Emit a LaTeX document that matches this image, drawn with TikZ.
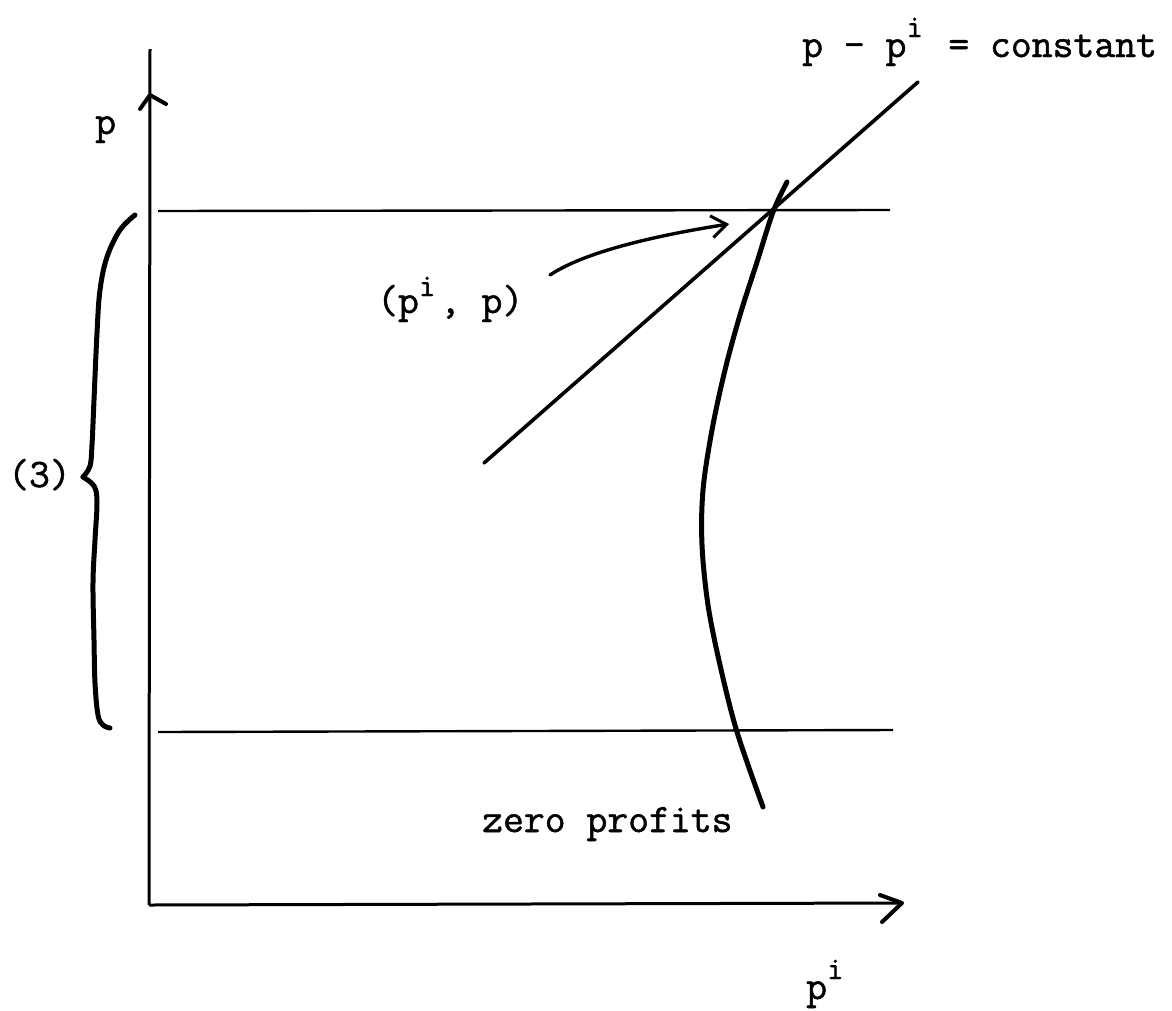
\documentclass[tikz,border=0pt]{standalone}
\usepackage{fontspec}
\setmonofont{Latin Modern Mono}[FakeBold=1.2]
\usetikzlibrary{arrows.meta}
\newcommand\mysupi[1]{\makebox[21pt][l]{\raisebox{#1}{\fontsize{32}{32}\selectfont i}}}
\begin{document}
\begin{tikzpicture}[x=1pt,y=-1pt,
  lbl/.style={inner sep=0pt,anchor=base west,font=\fontsize{40.5}{42}\selectfont\ttfamily},
  thinln/.style={line width=2.4pt},
  axisln/.style={line width=3pt},
  chev/.style={line width=4pt,line cap=round,line join=round},
  heavy/.style={line width=5pt,line cap=round,line join=round},
  diag/.style={line width=3.6pt,line cap=round},
  pointer/.style={line width=3.4pt,line cap=round,-{Straight Barb[length=15pt,width=22pt,line width=3pt]}}]
\useasboundingbox (0,0) rectangle (1172,1010);

% axes
\coordinate (O) at (149,905);
\coordinate (ytop) at (150,49);
\coordinate (xend) at (902,903);
\draw[axisln] (O) -- (ytop);
\draw[axisln] (O) -- (xend);
\draw[chev] (140,109) -- (150,95) -- (166,104);
\draw[chev] (880,895) -- (xend) -- (882,922);

% horizontal bounds
\coordinate (t1) at (158,211); \coordinate (t2) at (890,210);
\coordinate (b1) at (158,732); \coordinate (b2) at (893,730);
\draw[thinln] (t1) -- (t2);
\draw[thinln] (b1) -- (b2);

% p - p^i = constant line
\coordinate (d1) at (484,463); \coordinate (d2) at (918,82);
\draw[diag] (d1) -- (d2);

% zero profits curve
\draw[heavy] plot[smooth,tension=0.55] coordinates {(787,182) (773,212) (757,262) (740,315) (725,370) (712,430) (703,490) (702,545) (708,605) (720,665) (737,732) (763,807)};

% brace
\draw[heavy] plot[smooth,tension=0.6] coordinates {(135,215) (120,230) (107,257) (100,290) (97,333) (94,400) (92,445) (90,466) (83,477)};
\draw[heavy] plot[smooth,tension=0.6] coordinates {(83,477) (94,486) (97,502) (95,540) (93,583) (94,640) (95,683) (98,715) (103,725) (110,728)};

% labels
\node[lbl] (plab) at (95,134) {p};
\node[lbl] (const) at (802,57) {p - p\mysupi{20pt} = constant};
\node[lbl] (pip) at (377,313) {(p\mysupi{17pt}, p)};
\node[lbl] (zp) at (482,832) {zero profits};
\node[lbl] (pilab) at (806,999) {p\mysupi{20pt}};
\node[lbl] (three) at (8,487) {(3)};

% pointer arrow
\coordinate (astart) at (550,275);
\coordinate (aend) at (729,224);
\draw[pointer] (astart) .. controls (580,255) and (640,238) .. (aend);
\end{tikzpicture}
\end{document}
